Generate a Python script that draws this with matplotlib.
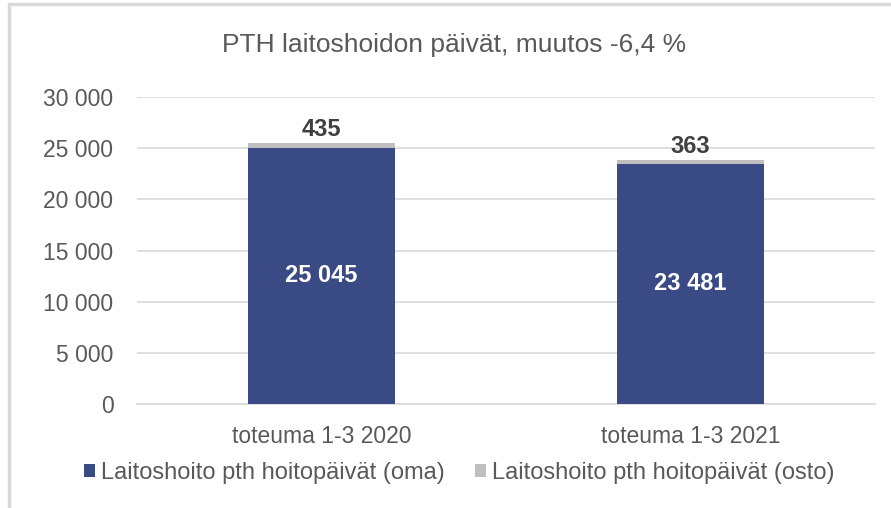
import matplotlib.pyplot as plt
from matplotlib.patches import Rectangle
from matplotlib.ticker import FuncFormatter

plt.rcParams['font.family'] = ['Liberation Sans', 'DejaVu Sans']

categories = ['toteuma 1-3 2020', 'toteuma 1-3 2021']
oma = [25045, 23481]
osto = [435, 363]
series_names = ['Laitoshoito pth hoitopäivät (oma)', 'Laitoshoito pth hoitopäivät (osto)']

blue = '#3A4A84'
grey = '#BFBFBF'
text_col = '#595959'

def fmt(v):
    return f'{int(v):,}'.replace(',', ' ')

fig = plt.figure(figsize=(8.91, 5.08), dpi=100)
ax = fig.add_axes([137 / 891, 1 - 404 / 508, 738 / 891, 307 / 508])

x = list(range(len(categories)))
ax.bar(x, oma, width=0.40, color=blue, label=series_names[0], zorder=3)
ax.bar(x, osto, bottom=oma, width=0.40, color=grey, label=series_names[1], zorder=3)

for i in x:
    ax.text(i, oma[i] / 2, fmt(oma[i]), ha='center', va='center',
            color='white', fontsize=17, fontweight='bold', zorder=4)
    ax.text(i, oma[i] + osto[i] + 200, fmt(osto[i]), ha='center', va='bottom',
            color='#404040', fontsize=17, fontweight='bold', zorder=4)

ax.set_xlim(-0.5, 1.5)
ax.set_ylim(0, 30000)
ax.set_yticks(range(0, 30001, 5000))
ax.yaxis.set_major_formatter(FuncFormatter(lambda v, p: fmt(v)))
ax.set_xticks(x)
ax.set_xticklabels(categories)
ax.tick_params(axis='both', length=0, labelsize=16.5, colors=text_col)
ax.tick_params(axis='y', pad=17)
ax.tick_params(axis='x', pad=15)
ax.grid(axis='y', color='#D9D9D9', linewidth=1.2, zorder=0)
for s in ['left', 'right', 'top']:
    ax.spines[s].set_visible(False)
ax.spines['bottom'].set_color('#D9D9D9')
ax.spines['bottom'].set_linewidth(1.2)

fig.text(454 / 891, 1 - 45 / 508, 'PTH laitoshoidon päivät, muutos -6,4 %',
         ha='center', va='center', fontsize=19, color=text_col)

leg = fig.legend(loc='center', bbox_to_anchor=(459 / 891, 1 - 473 / 508), ncol=2,
                 frameon=False, fontsize=17, handlelength=0.45, handleheight=0.45,
                 handletextpad=0.25, columnspacing=1.3)
for t in leg.get_texts():
    t.set_color(text_col)

# chart frame (cropped at right and bottom)
fig.add_artist(Rectangle((9 / 891, -0.1), 1.2, 1 - 4 / 508 + 0.1,
                         transform=fig.transFigure, fill=False,
                         edgecolor='#D9D9D9', linewidth=2.5))

fig.savefig('out.png', dpi=100)
